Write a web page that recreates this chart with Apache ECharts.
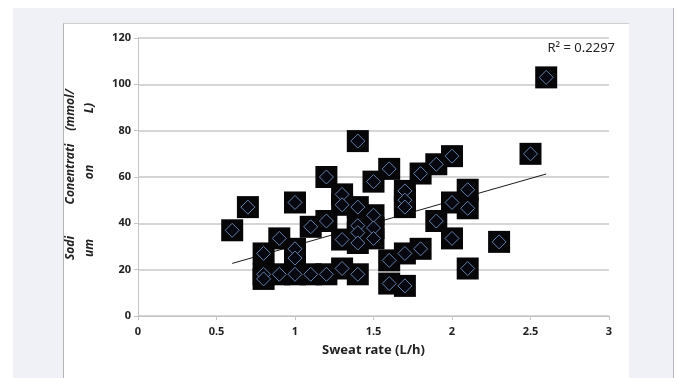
<!DOCTYPE html>
<html>
<head>
<meta charset="utf-8">
<script src="https://cdn.jsdelivr.net/npm/echarts@6/dist/echarts.min.js"></script>
<style>
  html, body { margin: 0; padding: 0; background: #ffffff; }
  #wrap { position: relative; width: 680px; height: 378px; overflow: hidden; }
  #back { position: absolute; left: 13px; top: 8px; width: 660px; height: 370px; background: #f0f1f6; border-right: 1px solid #b8b9c0; }
  #panel { position: absolute; left: 63px; top: 23px; width: 565px; height: 355px; background: #ffffff; border-left: 1px solid #b5b5b5; border-top: 1px solid #d0d0d0; }
  #chart { position: absolute; left: 0; top: 0; width: 680px; height: 378px; }
</style>
</head>
<body>
<div id="wrap">
  <div id="back"></div>
  <div id="panel"></div>
  <div id="chart"></div>
</div>
<script>
// sweat rate (L/h) and sodium concentration (mmol/L)
const sweatRate = [
  0.6, 0.7, 0.8, 0.8, 0.8, 0.9, 0.9, 1.0, 1.0, 1.0, 1.0,
  1.1, 1.1, 1.2, 1.2, 1.2, 1.3, 1.3, 1.3, 1.3,
  1.4, 1.4, 1.4, 1.4, 1.4, 1.4, 1.5, 1.5, 1.5, 1.5,
  1.6, 1.6, 1.6, 1.7, 1.7, 1.7, 1.7, 1.7, 1.8, 1.8,
  1.9, 1.9, 2.0, 2.0, 2.0, 2.1, 2.1, 2.1, 2.3, 2.5, 2.6
];
const sodium = [
  37, 47, 27, 18, 16, 33.5, 18, 49, 29, 25, 18,
  38.5, 18, 60, 41, 18, 52.5, 48, 33, 20.5,
  75.5, 47, 39, 36, 31.5, 18, 58, 43.5, 38, 33.5,
  63.5, 24, 14, 54, 50, 47, 27, 13, 61.5, 29,
  65.5, 41, 69, 49, 33.5, 54.5, 46.5, 20.5, 32, 70, 103
];
// linear trendline ends as drawn
const trendX = [0.6, 2.6];
const trendY = [22.7, 61.3];
const xTicks = [0, 0.5, 1, 1.5, 2, 2.5, 3];
const yTicks = [0, 20, 40, 60, 80, 100, 120];
const r2Label = 'R² = 0.2297';

const points = sweatRate.map((x, i) => [x, sodium[i]]);
const font = '"Noto Sans", "Open Sans", sans-serif';

const chart = echarts.init(document.getElementById('chart'));

// y title is wrapped word by word, as in the original
const yTitleParts = [
  { text: 'Sodi', x: 71, y: 248 },
  { text: 'um', x: 90, y: 248 },
  { text: 'Conentrati', x: 71, y: 174 },
  { text: 'on', x: 90, y: 172 },
  { text: '(mmol/', x: 71, y: 110 },
  { text: 'L)', x: 90, y: 108 }
];

chart.setOption({
  backgroundColor: 'transparent',
  animation: false,
  grid: { left: 138, right: 71, top: 38, bottom: 62 },
  xAxis: {
    type: 'value',
    min: xTicks[0],
    max: xTicks[xTicks.length - 1],
    interval: 0.5,
    name: 'Sweat rate (L/h)',
    nameLocation: 'middle',
    nameGap: 28,
    nameTextStyle: { fontFamily: font, fontWeight: 'bold', fontSize: 13, color: '#222' },
    axisLine: { show: true, lineStyle: { color: '#c4c4c4', width: 1 } },
    axisTick: { show: true, length: 4, lineStyle: { color: '#c4c4c4' } },
    axisLabel: { fontFamily: font, fontWeight: 'bold', fontSize: 11, color: '#222', margin: 10 },
    splitLine: { show: false }
  },
  yAxis: {
    type: 'value',
    min: yTicks[0],
    max: yTicks[yTicks.length - 1],
    interval: 20,
    axisLine: { show: true, lineStyle: { color: '#c4c4c4', width: 1 } },
    axisTick: { show: true, length: 4, lineStyle: { color: '#c4c4c4' } },
    axisLabel: { fontFamily: font, fontWeight: 'bold', fontSize: 11, color: '#222', margin: 7 },
    splitLine: { show: true, lineStyle: { color: '#c8c8c8', width: 1.5 } }
  },
  graphic: [
    ...yTitleParts.map((p) => ({
      type: 'text',
      x: p.x,
      y: p.y,
      rotation: Math.PI / 2,
      style: {
        text: p.text,
        fontFamily: font,
        fontWeight: 'bold',
        fontStyle: 'italic',
        fontSize: 12,
        fill: '#222',
        align: 'center',
        verticalAlign: 'middle'
      }
    })),
    {
      type: 'text',
      right: 65,
      top: 42,
      style: { text: r2Label, fontFamily: font, fontSize: 13, fill: '#222' }
    }
  ],
  series: [
    {
      type: 'line',
      data: trendX.map((x, i) => [x, trendY[i]]),
      symbol: 'none',
      lineStyle: { color: '#1a1a1a', width: 1 },
      z: 1
    },
    {
      type: 'scatter',
      symbol: 'rect',
      symbolSize: 22,
      itemStyle: { color: '#060608', opacity: 1 },
      z: 2,
      data: points
    },
    {
      type: 'scatter',
      symbol: 'diamond',
      symbolSize: 14,
      itemStyle: { color: '#07070f', borderColor: '#6580aa', borderWidth: 1, opacity: 1 },
      z: 3,
      data: points
    }
  ]
});
</script>
</body>
</html>
